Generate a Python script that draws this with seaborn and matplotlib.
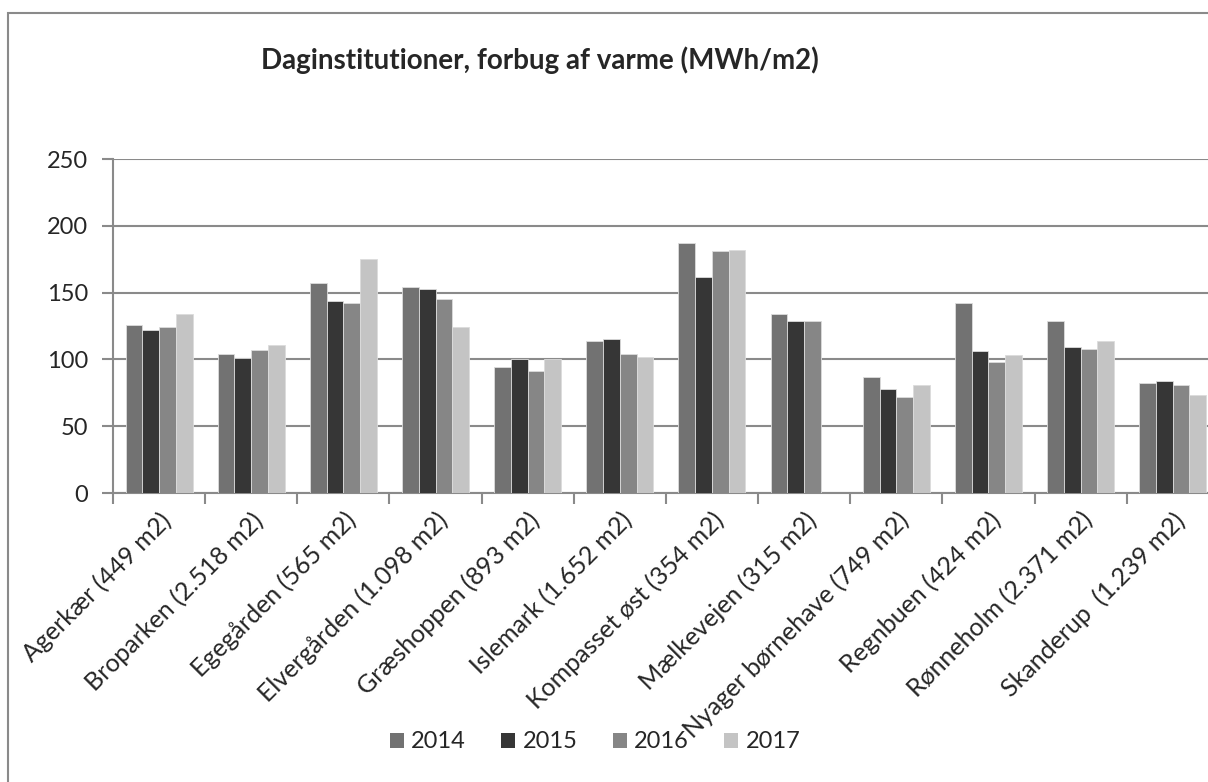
import numpy as np
import pandas as pd
import seaborn as sns
import matplotlib.pyplot as plt
from matplotlib.patches import Rectangle

# Institutions (x categories)
institutions = [
    "Agerkær (449 m2)", "Broparken (2.518 m2)", "Egegården (565 m2)",
    "Elvergården (1.098 m2)", "Græshoppen (893 m2)", "Islemark (1.652 m2)",
    "Kompasset øst (354 m2)", "Mælkevejen (315 m2)", "Nyager børnehave (749 m2)",
    "Regnbuen (424 m2)", "Rønneholm (2.371 m2)", "Skanderup  (1.239 m2)",
]
years = ["2014", "2015", "2016", "2017"]

# Heat consumption per year
v2014 = [126, 104, 157, 154, 94, 114, 187, 134, 87, 142, 129, 82]
v2015 = [122, 101, 144, 153, 100, 115, 162, 129, 78, 106, 109, 84]
v2016 = [124, 107, 142, 145, 91, 104, 181, 129, 72, 98, 108, 81]
v2017 = [134, 111, 175, 124, 100, 102, 182, np.nan, 81, 103, 114, 73]

colors = ["#727272", "#363636", "#868686", "#c4c4c4"]
grid_col = "#8a8a8a"

df = pd.DataFrame({"institution": institutions, "2014": v2014, "2015": v2015,
                   "2016": v2016, "2017": v2017})
long = df.melt(id_vars="institution", var_name="year", value_name="value")

sns.set_theme(style="white")
plt.rcParams["font.family"] = ["Lato", "DejaVu Sans"]

fig = plt.figure(figsize=(12.08, 7.82), dpi=100)
ax = fig.add_axes([113 / 1208, 1 - 493 / 782, 12 * 92.15 / 1208, 334 / 782])

sns.barplot(data=long, x="institution", y="value", hue="year", order=institutions,
            hue_order=years, palette=dict(zip(years, colors)), width=0.727,
            edgecolor="#dcdcdc", linewidth=0.6, errorbar=None, ax=ax, zorder=3)

ax.set_xlim(-0.5, len(institutions) - 0.5)
ax.set_ylim(0, 250)
ax.set_yticks(range(0, 251, 50))
ax.yaxis.grid(True, color=grid_col, linewidth=1.5, zorder=0)
ax.set_axisbelow(True)
ax.set_xlabel("")
ax.set_ylabel("")

for s in ["top", "right"]:
    ax.spines[s].set_visible(False)
for s in ["left", "bottom"]:
    ax.spines[s].set_color(grid_col)
    ax.spines[s].set_linewidth(1.5)

ax.tick_params(axis="y", which="major", length=8, width=1.5, color=grid_col,
               labelsize=17, pad=10, left=True, direction="out")
ax.set_xticks(np.arange(len(institutions) + 1) - 0.5, minor=True)
ax.tick_params(axis="x", which="minor", length=8, width=1.5, color=grid_col,
               bottom=True, direction="out")
ax.tick_params(axis="x", which="major", length=0, labelsize=18, pad=11)
ax.set_xticklabels(institutions, rotation=45, ha="right", rotation_mode="anchor")

ax.legend_.remove()
handles = [Rectangle((0, 0), 1, 1, facecolor=c, edgecolor="none") for c in colors]
fig.legend(handles, years, loc="center", bbox_to_anchor=(595 / 1208, 1 - 742 / 782),
           ncol=4, frameon=False, fontsize=17, handlelength=0.6, handleheight=0.6,
           handletextpad=0.3, columnspacing=1.5)

fig.text(540 / 1208, 1 - 60 / 782, "Daginstitutioner, forbug af varme (MWh/m2)",
         ha="center", va="center", fontsize=20, fontweight="bold")

# Outer chart border (cropped at right and bottom)
fig.patches.append(Rectangle((8 / 1208, -0.1), 1.2, 1.1 - 13 / 782, fill=False,
                             edgecolor=grid_col, linewidth=1.5,
                             transform=fig.transFigure, figure=fig))

fig.savefig("out.png", dpi=100)
